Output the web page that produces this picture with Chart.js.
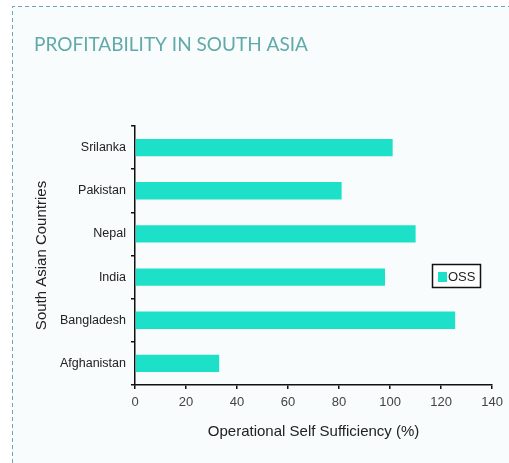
<!DOCTYPE html>
<html>
<head>
<meta charset="utf-8">
<script src="https://cdn.jsdelivr.net/npm/chart.js@4/dist/chart.umd.min.js"></script>
<style>
  html, body { margin: 0; padding: 0; background: #ffffff; }
  #wrap { position: relative; width: 509px; height: 463px; }
</style>
</head>
<body>
<div id="wrap"><canvas id="chart" width="509" height="463"></canvas></div>
<script>
// Operational self sufficiency by country
const chartTitle = 'PROFITABILITY IN SOUTH ASIA';
const countries = ['Srilanka', 'Pakistan', 'Nepal', 'India', 'Bangladesh', 'Afghanistan'];
const seriesName = 'OSS';
const ossValues = [101, 81, 110, 98, 125.5, 33];
const xTicks = [0, 20, 40, 60, 80, 100, 120, 140];
const xAxisTitle = 'Operational Self Sufficiency (%)';
const yAxisTitle = 'South Asian Countries';

const barColor = '#1de0c8';
const axisFont = 'Liberation Sans, Arial, sans-serif';

// Panel background, dashed frame and heading
const framePlugin = {
  id: 'frame',
  beforeDraw(chart) {
    const ctx = chart.ctx;
    ctx.save();
    ctx.fillStyle = '#ffffff';
    ctx.fillRect(0, 0, chart.width, chart.height);
    ctx.fillStyle = '#f8fcfc';
    ctx.fillRect(12, 6, chart.width - 12, chart.height - 6);
    ctx.strokeStyle = '#6aa6b8';
    ctx.lineWidth = 1;
    ctx.setLineDash([4, 3]);
    ctx.beginPath();
    ctx.moveTo(12.5, chart.height);
    ctx.lineTo(12.5, 6.5);
    ctx.lineTo(chart.width, 6.5);
    ctx.stroke();
    ctx.setLineDash([]);
    ctx.fillStyle = '#62a9a9';
    ctx.font = '19px Lato, "Open Sans", sans-serif';
    ctx.textBaseline = 'alphabetic';
    ctx.textAlign = 'left';
    ctx.fillText(chartTitle, 34, 51);
    ctx.restore();
  }
};

// Boxed legend beside the bars
const boxLegendPlugin = {
  id: 'boxLegend',
  afterDraw(chart) {
    const ctx = chart.ctx;
    const ds = chart.data.datasets[0];
    const x = 432.5, y = 264.5, w = 48, h = 23;
    ctx.save();
    ctx.fillStyle = '#ffffff';
    ctx.fillRect(x, y, w, h);
    ctx.strokeStyle = '#111111';
    ctx.lineWidth = 1.5;
    ctx.strokeRect(x, y, w, h);
    ctx.fillStyle = ds.backgroundColor;
    ctx.fillRect(438, 272, 9, 10);
    ctx.fillStyle = '#222222';
    ctx.font = '13px ' + axisFont;
    ctx.textBaseline = 'middle';
    ctx.textAlign = 'left';
    ctx.fillText(ds.label, 448, 277.5);
    ctx.restore();
  }
};

new Chart(document.getElementById('chart'), {
  type: 'bar',
  data: {
    labels: countries,
    datasets: [{
      label: seriesName,
      data: ossValues,
      backgroundColor: barColor,
      borderWidth: 0,
      barPercentage: 0.4,
      categoryPercentage: 1.0
    }]
  },
  options: {
    indexAxis: 'y',
    responsive: false,
    animation: false,
    layout: { padding: { left: 0, right: 10, top: 126, bottom: 0 } },
    plugins: {
      legend: { display: false },
      title: { display: false },
      tooltip: { enabled: false }
    },
    scales: {
      x: {
        min: 0,
        max: 140,
        afterBuildTicks(scale) { scale.ticks = xTicks.map(v => ({ value: v })); },
        afterFit(scale) { scale.height = 78; },
        border: { display: true, color: '#111111', width: 1.5 },
        grid: { drawOnChartArea: false, drawTicks: true, tickLength: 4, color: '#111111', lineWidth: 1.5 },
        ticks: { color: '#444444', font: { family: axisFont, size: 13 }, padding: 6, maxRotation: 0 },
        title: {
          display: true,
          text: xAxisTitle,
          color: '#222222',
          font: { family: axisFont, size: 15 },
          padding: { top: 0, bottom: 22 }
        }
      },
      y: {
        afterFit(scale) { scale.width = 135; },
        border: { display: true, color: '#111111', width: 1.5 },
        grid: { offset: true, drawOnChartArea: false, drawTicks: true, tickLength: 4, color: '#111111', lineWidth: 1.5 },
        ticks: { color: '#222222', font: { family: axisFont, size: 12.5 }, padding: 5 },
        title: {
          display: true,
          text: yAxisTitle,
          color: '#222222',
          font: { family: axisFont, size: 15 },
          padding: { top: 33, bottom: 0 }
        }
      }
    }
  },
  plugins: [framePlugin, boxLegendPlugin]
});
</script>
</body>
</html>
